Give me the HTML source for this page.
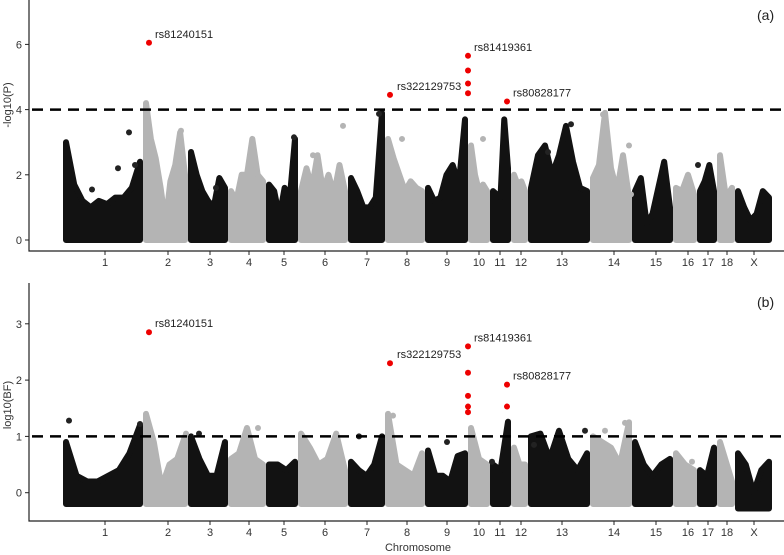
<!DOCTYPE html>
<html><head><meta charset="utf-8"><style>
body{margin:0;background:#fff}
svg{display:block;font-family:"Liberation Sans",sans-serif}
</style></head><body>
<svg id="chart" width="784" height="555" viewBox="0 0 784 555"></svg>
<script>
const chromosomes=["1","2","3","4","5","6","7","8","9","10","11","12","13","14","15","16","17","18","X"];
const chromStart=[63,143,188,228,266,298,348,385,425,468,490,511,528,590,632,673,697,717,735];
const chromEnd=[143,188,228,266,298,348,385,425,468,490,511,528,590,632,673,697,717,735,772];
const chromLabelX=[105,168,210,249,284,325,367,407,447,479,500,521,562,614,656,688,708,727,754];
const envelopeP=[
 [3.0,1.7,1.2,1.0,1.2,1.1,1.3,1.3,1.6,2.4],
 [4.2,3.1,2.5,1.6,0.5,1.8,2.3,3.3,2.0],
 [2.7,2.0,1.5,1.2,1.0,1.9,1.6],
 [1.5,1.2,2.0,2.0,3.1,2.0,1.8],
 [1.7,1.5,0.7,1.6,1.3,3.1],
 [1.5,2.2,1.6,2.6,1.5,2.0,1.4,2.3,1.5],
 [1.9,1.5,1.0,1.0,1.3,3.9],
 [3.1,2.5,2.0,1.5,1.8,1.6,1.5],
 [1.6,1.2,1.3,2.0,2.3,1.7,3.7],
 [2.9,2.0,1.5,1.7,1.5],
 [1.5,1.4,1.3,3.7,2.2],
 [2.0,1.7,1.8,1.5],
 [1.6,2.6,2.9,2.0,2.6,3.5,2.4,1.6,1.5],
 [1.9,2.3,3.9,2.2,1.5,2.6,1.3],
 [1.5,1.9,0.5,0.8,1.6,2.4,1.0],
 [1.6,1.5,2.0,1.4],
 [1.5,1.8,2.3,1.5],
 [2.6,1.3,1.6],
 [1.5,1.0,0.6,0.8,1.5,1.3]];
const envelopeBF=[
 [0.9,0.3,0.2,0.2,0.3,0.4,0.7,1.2],
 [1.4,0.9,0.1,0.5,0.6,1.0],
 [1.0,0.6,0.3,0.3,0.9],
 [0.6,0.7,1.15,0.6,0.5],
 [0.5,0.5,0.4,0.55],
 [1.05,0.8,0.5,0.6,1.05,0.4],
 [0.55,0.4,0.3,0.5,1.0],
 [1.4,0.5,0.4,0.3,0.7],
 [0.75,0.3,0.3,0.2,0.65,0.7],
 [1.15,0.6,0.5],
 [0.5,0.4,1.26],
 [0.8,0.5,0.5],
 [1.0,1.05,0.6,1.1,0.6,0.4,0.7],
 [1.0,0.9,0.8,0.5,1.25],
 [0.9,0.5,0.3,0.5,0.6],
 [0.7,0.5,0.4],
 [0.4,0.3,0.8],
 [0.9,0.2],
 [0.7,0.5,0.0,0.4,0.55]];
const outlierPX=[129,118,135,92,181,216,256,294,343,313,379,402,483,571,603,629,548,631,698];
const outlierP=[3.3,2.2,2.3,1.55,3.35,1.6,2.05,3.15,3.5,2.6,3.87,3.1,3.1,3.55,3.85,2.9,2.7,1.4,2.3];
const outlierBFX=[69,140,186,199,258,303,359,393,447,492,534,585,605,625,692];
const outlierBF=[1.28,1.22,1.05,1.05,1.15,0.75,1.0,1.37,0.9,0.55,0.85,1.1,1.1,1.24,0.55];
const hitX=[149,390,468,468,468,468,507];
const hitP=[6.05,4.45,5.65,5.2,4.8,4.5,4.25];
const hitBFX=[149,390,468,468,468,468,468,507,507];
const hitBF=[2.85,2.3,2.6,2.13,1.72,1.53,1.43,1.92,1.53];
const snpLabels=["rs81240151","rs322129753","rs81419361","rs80828177"];
const snpLabelX=[155,397,474,513];
const snpLabelP=[6.05,4.45,5.65,4.25];
const snpLabelBF=[2.85,2.3,2.6,1.92];
const ticksP=[0,2,4,6];
const ticksBF=[0,1,2,3];

const svg=document.getElementById('chart');
const NS='http://www.w3.org/2000/svg';
function mk(tag,attrs,parent){const e=document.createElementNS(NS,tag);for(const k in attrs)e.setAttribute(k,attrs[k]);(parent||svg).appendChild(e);return e;}
function chromIndex(x){for(let i=0;i<chromStart.length;i++){if(x>=chromStart[i]&&x<chromEnd[i])return i;}return 0;}

function panel(cfg){
  const y=v=>cfg.y0-(v-0)*cfg.ppu;
  const g=mk('g',{});
  
  
  chromosomes.forEach((c,i)=>{
    const vals=cfg.env[i];
    const s=chromStart[i]+3,e=chromEnd[i]-3;
    const base=y(cfg.base[i]);
    let pts=[[s,base]];
    vals.forEach((v,j)=>{const x=s+(e-s)*(vals.length===1?0.5:j/(vals.length-1));pts.push([x,y(v)]);});
    pts.push([e,base]);
    const col=i%2===0?'#121212':'#b4b4b4';
    const p=mk('polygon',{points:pts.map(q=>q.join(',')).join(' '),fill:col,stroke:col,'stroke-width':6,'stroke-linejoin':'round'},g);
    
    
  });
  cfg.ox.forEach((ox,i)=>{
    const ci=chromIndex(ox);
    const c=mk('circle',{cx:ox,cy:y(cfg.ov[i]),r:3,fill:ci%2===0?'#222':'#b4b4b4'},g);
    
    
  });
  const ax=mk('path',{d:`M29,${cfg.top} V${cfg.axisY} H784`,stroke:'#222','stroke-width':1.2,fill:'none'},g);
  
  
  cfg.ticks.forEach(t=>{
    mk('line',{x1:25,x2:29,y1:y(t),y2:y(t),stroke:'#222'},g);
    const tx=mk('text',{x:22,y:y(t)+4,'text-anchor':'end','font-size':11,fill:'#333'},g);
    tx.textContent=t;
    
    
  });
  chromosomes.forEach((c,i)=>{
    mk('line',{x1:chromLabelX[i],x2:chromLabelX[i],y1:cfg.axisY,y2:cfg.axisY+4,stroke:'#222'},g);
    const tx=mk('text',{x:chromLabelX[i],y:cfg.axisY+15,'text-anchor':'middle','font-size':11,fill:'#333'},g);
    tx.textContent=c;
    
    
  });
  const th=mk('line',{x1:32,x2:784,y1:y(cfg.thresh),y2:y(cfg.thresh),stroke:'#000','stroke-width':2.5,'stroke-dasharray':'11,7'},g);
  
  
  cfg.hx.forEach((hx,i)=>{
    const c=mk('circle',{cx:hx,cy:y(cfg.hv[i]),r:3,fill:'#ee0000'},g);
    
    
  });
  snpLabels.forEach((s,i)=>{
    const tx=mk('text',{x:snpLabelX[i],y:y(cfg.lv[i])-5,'font-size':11,fill:'#222'},g);
    tx.textContent=s;
    
    
  });
  const yt=mk('text',{x:0,y:0,'font-size':11,fill:'#333','text-anchor':'middle',transform:`translate(11,${cfg.titleY}) rotate(-90)`},g);
  yt.textContent=cfg.ytitle;
  
  
  const pl=mk('text',{x:757,y:cfg.tagY,'font-size':14,fill:'#222'},g);
  pl.textContent=cfg.tag;
  
  
}
panel({name:'panel-a',env:envelopeP,base:chromosomes.map(()=>0),y0:240,ppu:32.6,top:0,axisY:251,ticks:ticksP,thresh:4,hx:hitX,hv:hitP,lv:snpLabelP,ox:outlierPX,ov:outlierP,ytitle:'-log10(P)',titleY:105,tag:'(a)',tagY:20});
panel({name:'panel-b',env:envelopeBF,base:chromosomes.map(c=>c==='X'?-0.28:-0.2),y0:492.7,ppu:56.3,top:283,axisY:521,ticks:ticksBF,thresh:1,hx:hitBFX,hv:hitBF,lv:snpLabelBF,ox:outlierBFX,ov:outlierBF,ytitle:'log10(BF)',titleY:405,tag:'(b)',tagY:307});
const xt=mk('text',{x:418,y:551,'text-anchor':'middle','font-size':11,fill:'#333'});
xt.textContent='Chromosome';


</script>
</body></html>
